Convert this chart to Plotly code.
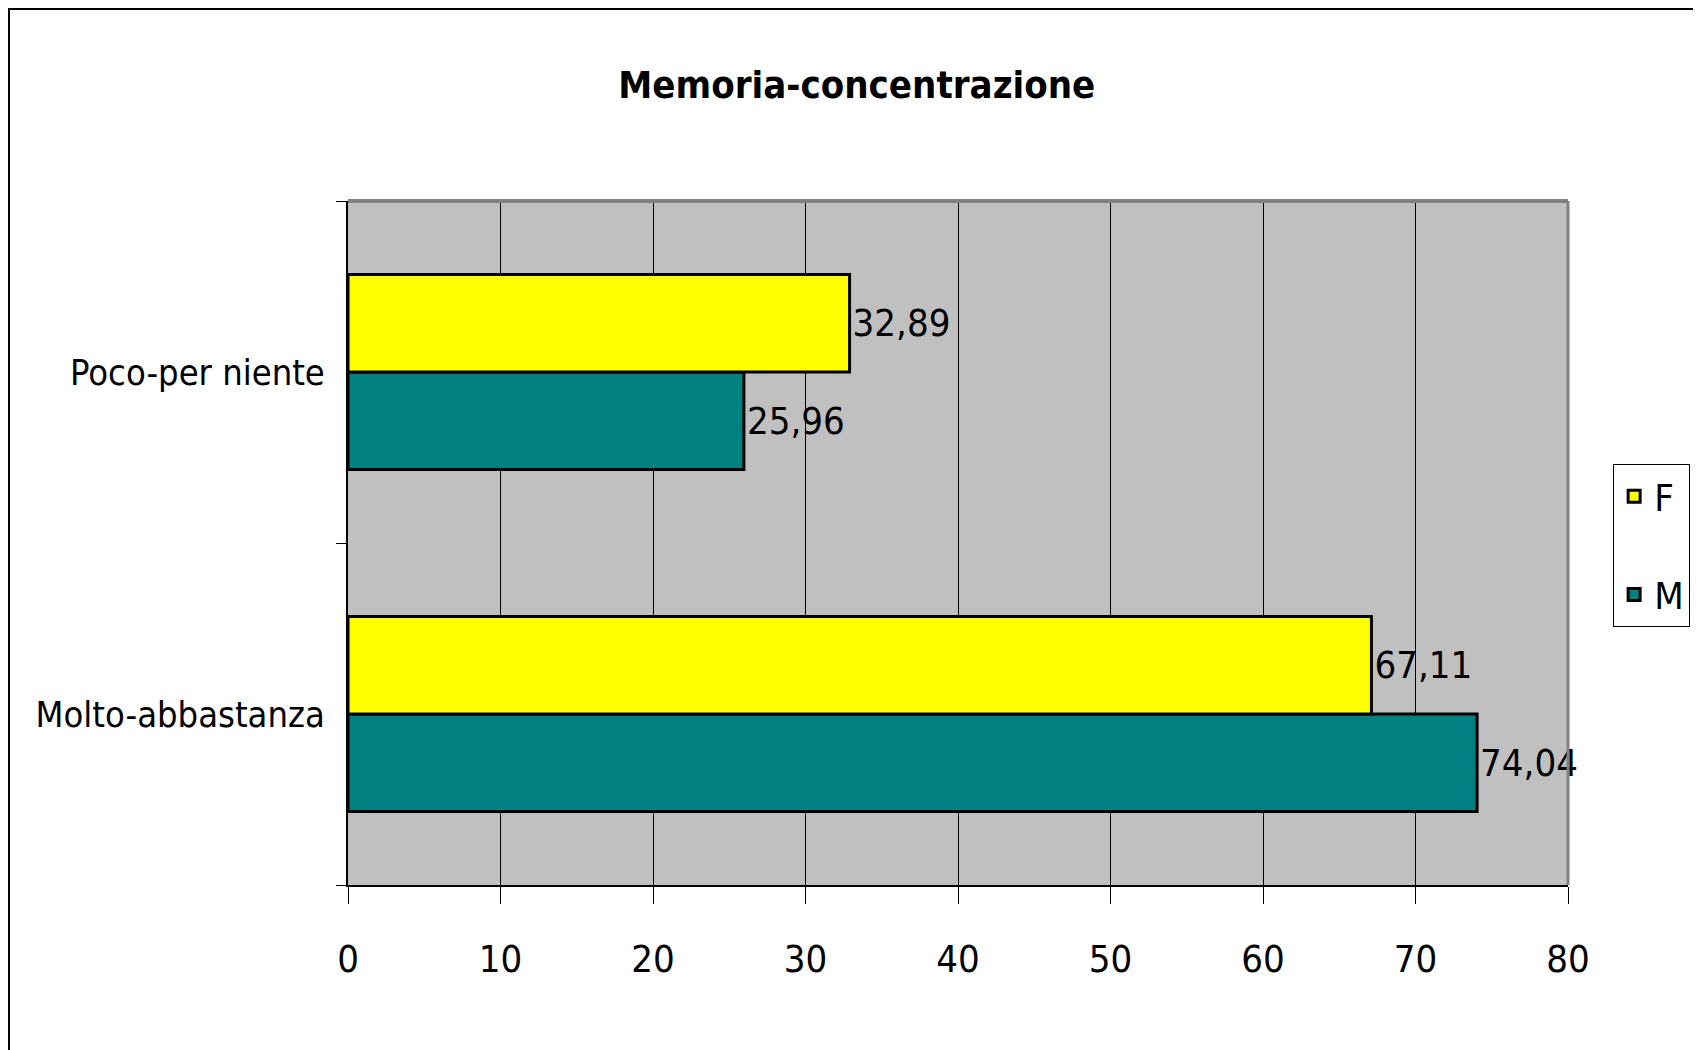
import plotly.graph_objects as go

categories = ["Molto-abbastanza", "Poco-per niente"]
f_values = [67.11, 32.89]
m_values = [74.04, 25.96]
x_ticks = [0, 10, 20, 30, 40, 50, 60, 70, 80]

FONT = "DejaVu Sans Condensed, Liberation Sans Narrow, Liberation Sans, Arial"


def it_fmt(v):
    return f"{v:.2f}".replace(".", ",")


fig = go.Figure()

# M first so it sits below F inside each group
fig.add_trace(go.Bar(
    y=categories, x=m_values, name="M", orientation="h",
    marker=dict(color="#008080", line=dict(color="black", width=3)),
    text=[it_fmt(v) for v in m_values], textposition="outside",
    textfont=dict(size=38, color="black"), cliponaxis=False,
    legendrank=2, legendgroup="m",
))
fig.add_trace(go.Bar(
    y=categories, x=f_values, name="F", orientation="h",
    marker=dict(color="#FFFF00", line=dict(color="black", width=3)),
    text=[it_fmt(v) for v in f_values], textposition="outside",
    textfont=dict(size=38, color="black"), cliponaxis=False,
    legendrank=1, legendgroup="f",
))

# page body adds ~8px, so margins are shifted by that
fig.update_layout(
    width=1701, height=1050,
    barmode="group", bargap=0.43, bargroupgap=0,
    paper_bgcolor="white", plot_bgcolor="#C0C0C0",
    font=dict(family=FONT, color="black"),
    margin=dict(l=340, r=141, t=193, b=173, autoexpand=False),
    title=dict(text="<b>Memoria-concentrazione</b>", x=0.499, xanchor="center",
               y=0.927, yanchor="middle", font=dict(size=38, family=FONT)),
    legend=dict(x=1.037, y=0.6155, xanchor="left", yanchor="top",
                bordercolor="black", borderwidth=1, bgcolor="white",
                font=dict(size=38), itemwidth=30, tracegroupgap=46),
    showlegend=True,
)

fig.update_xaxes(
    range=[0, 80], tickvals=x_ticks, ticktext=[str(t) for t in x_ticks],
    showgrid=True, gridcolor="black", gridwidth=1, zeroline=False,
    ticks="outside", ticklen=17, tickcolor="black", tickwidth=1,
    ticklabelstandoff=22, tickfont=dict(size=38), automargin=False,
    showline=True, linecolor="black", linewidth=2,
)
fig.update_yaxes(
    categoryorder="array", categoryarray=categories,
    ticks="outside", ticklen=10, tickcolor="black", tickwidth=1,
    tickson="boundaries", showgrid=False, tickfont=dict(size=36),
    ticklabelstandoff=14, automargin=False,
    showline=True, linecolor="black", linewidth=2,
)

# gray top and right border of the plot area
fig.add_shape(type="line", xref="paper", yref="paper", x0=0, x1=1, y0=1, y1=1,
              line=dict(color="#808080", width=4))
fig.add_shape(type="line", xref="paper", yref="paper", x0=1, x1=1, y0=0, y1=1,
              line=dict(color="#808080", width=3))
# outer chart frame
fig.add_shape(type="rect", xref="paper", yref="paper",
              x0=-0.2779, x1=1.2, y0=-0.5, y1=1.2807,
              line=dict(color="black", width=2), layer="below")

fig.write_html("out.html")
